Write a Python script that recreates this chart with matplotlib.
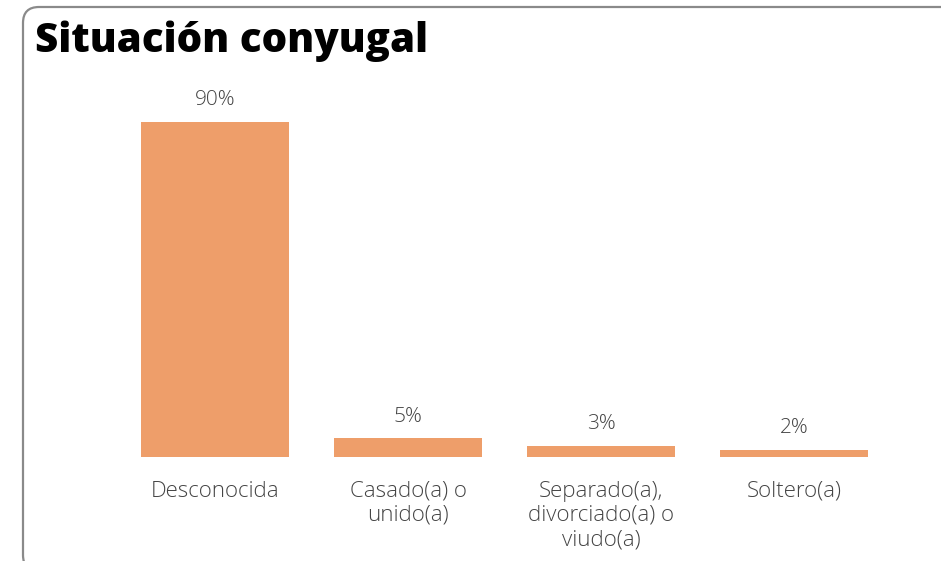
import numpy as np
import matplotlib.pyplot as plt
import matplotlib.patches as mpatches
from matplotlib.transforms import IdentityTransform

categorias = ["Desconocida", "Casado(a) o\nunido(a)",
              "Separado(a),\ndivorciado(a) o\nviudo(a)", "Soltero(a)"]
porcentajes = [90, 5, 3, 2]
etiquetas = ["90%", "5%", "3%", "2%"]

color_barra = "#EE9E6A"
color_texto = "#444444"

fig = plt.figure(figsize=(9.41, 5.61), dpi=100)
ax = fig.add_axes([118.5 / 941, 104 / 561, 772 / 941, 372 / 561])

x = np.arange(len(categorias))
barras = ax.bar(x, porcentajes, width=0.767, color=color_barra)

for b, et in zip(barras, etiquetas):
    ax.annotate(et, (b.get_x() + b.get_width() / 2, b.get_height()),
                xytext=(0, 8.5), textcoords="offset points",
                ha="center", va="bottom", fontsize=15,
                color=color_texto, family="Open Sans", fontweight="light")

ax.set_xlim(-0.5, 3.5)
ax.set_ylim(0, 100)
ax.set_xticks(x)
ax.set_xticklabels(categorias, fontsize=16, color=color_texto,
                   family="Open Sans", fontweight="light", linespacing=1.2)
ax.tick_params(axis="x", length=0, pad=17)
ax.set_yticks([])
for s in ax.spines.values():
    s.set_visible(False)

# marco redondeado
marco = mpatches.FancyBboxPatch((23, -10), 960, 554 + 10,
                                boxstyle="round,pad=0,rounding_size=16",
                                transform=IdentityTransform(),
                                facecolor="none", edgecolor="#8a8a8a",
                                linewidth=1.6)
fig.patches.append(marco)

fig.text(35 / 941, 1 - 52 / 561, "Situación conyugal", fontsize=29,
         fontweight="heavy", family="Open Sans", color="black",
         ha="left", va="baseline")

fig.savefig("out.png", dpi=100)
